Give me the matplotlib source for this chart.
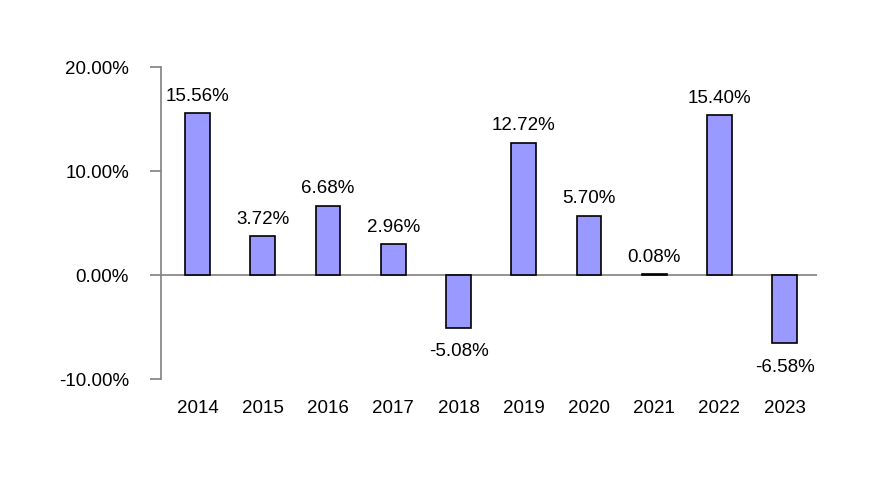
import numpy as np
import matplotlib
matplotlib.use('Agg')
from matplotlib import pyplot as plt

plt.rcParams['font.family'] = ['Liberation Sans', 'DejaVu Sans']

years = ['2014', '2015', '2016', '2017', '2018', '2019', '2020', '2021', '2022', '2023']
returns = [15.56, 3.72, 6.68, 2.96, -5.08, 12.72, 5.70, 0.08, 15.40, -6.58]

fig = plt.figure(figsize=(8.8, 4.8), dpi=100)
ax = fig.add_axes([0.183, 0.2104, 0.745, 0.65])

x = np.arange(len(years))
ax.bar(x, returns, width=0.38, color='#9999ff', edgecolor='black', linewidth=1.2, zorder=3)
ax.axhline(0, color='#808080', linewidth=1.2, zorder=2)

for xi, v in zip(x, returns):
    if v >= 0:
        ax.annotate(f'{v:.2f}%', (xi, v), xytext=(0, 6), textcoords='offset points',
                    ha='center', va='bottom', fontsize=13.5)
    else:
        ax.annotate(f'{v:.2f}%', (xi, v), xytext=(0, -11), textcoords='offset points',
                    ha='center', va='top', fontsize=13.5)

ax.set_xlim(-0.56, 9.49)
ax.set_ylim(-10, 20)
ax.set_yticks([-10, 0, 10, 20])
ax.set_yticklabels(['-10.00%', '0.00%', '10.00%', '20.00%'], fontsize=13.5)
ax.set_xticks(x)
ax.set_xticklabels(years, fontsize=13.5)
ax.tick_params(axis='x', length=0, pad=15)
ax.tick_params(axis='y', length=8, width=1.2, color='#808080', pad=15)

for s in ['top', 'right', 'bottom']:
    ax.spines[s].set_visible(False)
ax.spines['left'].set_color('#808080')
ax.spines['left'].set_linewidth(1.2)

fig.savefig('out.png', dpi=100)
